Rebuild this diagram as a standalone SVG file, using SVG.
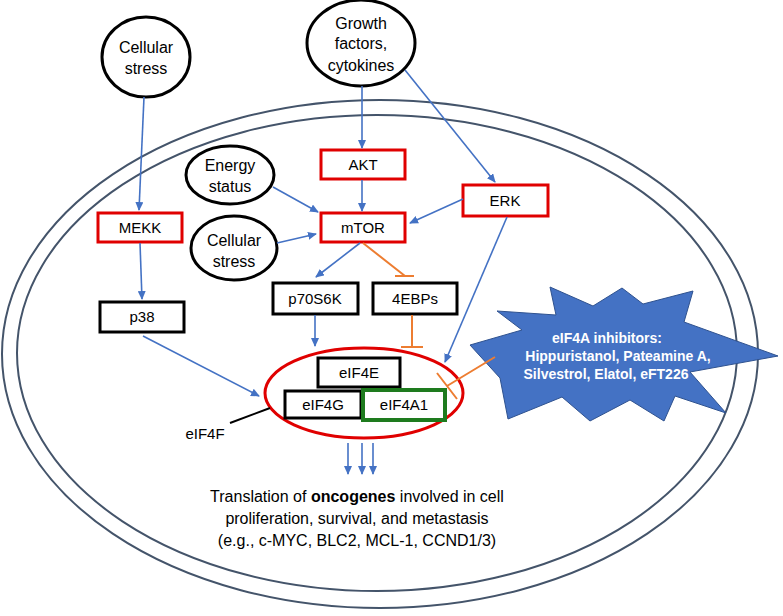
<svg xmlns="http://www.w3.org/2000/svg" width="783" height="616" viewBox="0 0 783 616">
<defs>
<style>
.cell{fill:none;stroke:#44546A;stroke-width:2}
.circ{fill:#fff;stroke:#000;stroke-width:3}
.kbox{fill:#fff;stroke:#000;stroke-width:3}
.rbox{fill:#fff;stroke:#E00000;stroke-width:3}
.gbox{fill:#fff;stroke:#1E7B1E;stroke-width:4}
.t{font-family:"Liberation Sans",Arial,sans-serif;font-size:15px;fill:#000;text-anchor:middle}
.tc{font-family:"Liberation Sans",Arial,sans-serif;font-size:16px;fill:#000;text-anchor:middle}
.tb{font-family:"Liberation Sans",Arial,sans-serif;font-size:14px;font-weight:bold;fill:#fff;text-anchor:middle}
.a{stroke:#4472C4;stroke-width:1.6;fill:none;marker-end:url(#ah)}
.o{stroke:#ED7D31;stroke-width:2;fill:none}
</style>
<marker id="ah" markerUnits="userSpaceOnUse" markerWidth="9" markerHeight="8" refX="8" refY="4" orient="auto">
<path d="M0,0 L9,4 L0,8 z" fill="#4472C4"/>
</marker>
</defs>
<rect width="783" height="616" fill="#fff"/>
<g id="cell-membrane">
<ellipse class="cell" cx="380" cy="354" rx="378" ry="254"/>
<ellipse class="cell" cx="377" cy="353" rx="360" ry="238"/>
</g>
<g id="cellular-stress-1">
<ellipse class="circ" cx="146" cy="57" rx="44" ry="40"/>
<text class="tc" x="146" y="53">Cellular</text>
<text class="tc" x="146" y="74">stress</text>
</g>
<g id="growth-factors">
<ellipse class="circ" cx="361" cy="43" rx="54" ry="43"/>
<text class="tc" x="361" y="29">Growth</text>
<text class="tc" x="361" y="49">factors,</text>
<text class="tc" x="361" y="71">cytokines</text>
</g>
<g id="energy-status">
<ellipse class="circ" cx="230" cy="175" rx="44" ry="29"/>
<text class="tc" x="230" y="171">Energy</text>
<text class="tc" x="230" y="192">status</text>
</g>
<g id="cellular-stress-2">
<ellipse class="circ" cx="234" cy="248" rx="43" ry="32"/>
<text class="tc" x="234" y="246">Cellular</text>
<text class="tc" x="234" y="267">stress</text>
</g>
<g id="akt">
<rect class="rbox" x="321" y="150" width="84" height="29"/>
<text class="t" x="363" y="170">AKT</text>
</g>
<g id="mtor">
<rect class="rbox" x="321" y="213" width="84" height="29"/>
<text class="t" x="363" y="233">mTOR</text>
</g>
<g id="mekk">
<rect class="rbox" x="98" y="213" width="84" height="29"/>
<text class="t" x="140" y="233">MEKK</text>
</g>
<g id="erk">
<rect class="rbox" x="463" y="185" width="85" height="31"/>
<text class="t" x="505" y="206">ERK</text>
</g>
<g id="p38">
<rect class="kbox" x="100" y="302" width="84" height="30"/>
<text class="t" x="142" y="322">p38</text>
</g>
<g id="p70s6k">
<rect class="kbox" x="273" y="283" width="85" height="31"/>
<text class="t" x="315" y="304">p70S6K</text>
</g>
<g id="4ebps">
<rect class="kbox" x="373" y="283" width="84" height="31"/>
<text class="t" x="415" y="304">4EBPs</text>
</g>
<g id="eif4f">
<ellipse cx="364" cy="393" rx="99" ry="45" fill="none" stroke="#E00000" stroke-width="3"/>
<line x1="230" y1="423" x2="270" y2="408" stroke="#000" stroke-width="2"/>
<text class="t" x="205" y="439">eIF4F</text>
</g>
<g id="eif4e">
<rect class="kbox" x="318" y="358" width="82" height="29"/>
<text class="t" x="359" y="378">eIF4E</text>
</g>
<g id="eif4g">
<rect class="kbox" x="285" y="391" width="76" height="27"/>
<text class="t" x="323" y="410">eIF4G</text>
</g>
<g id="eif4a1">
<rect class="gbox" x="363" y="390" width="82" height="30"/>
<text class="t" x="404" y="410">eIF4A1</text>
</g>
<g id="eif4a-inhibitors">
<polygon points="497,311 556,315 550,287 593,306 622,288 643,304 693,291 684,322 778,356 690,372 726,413 675,396 664,421 630,400 590,421 562,397 508,419 500,378 470,345 522,330" fill="#4472C4" stroke="#2F528F" stroke-width="1"/>
<text class="tb" x="607" y="343">eIF4A inhibitors:</text>
<text class="tb" x="618" y="361">Hippuristanol, Pateamine A,</text>
<text class="tb" x="606" y="379">Silvestrol, Elatol, eFT226</text>
</g>
<g id="translation-output">
<text class="tc" x="357" y="502">Translation of <tspan font-weight="bold">oncogenes</tspan> involved in cell</text>
<text class="tc" x="357" y="524">proliferation, survival, and metastasis</text>
<text class="tc" x="357" y="546">(e.g., c-MYC, BLC2, MCL-1, CCND1/3)</text>
</g>
<g id="connectors">
<line class="a" x1="144" y1="97" x2="139" y2="210"/>
<line class="a" x1="362" y1="86" x2="362" y2="148"/>
<line class="a" x1="405" y1="70" x2="495" y2="182"/>
<line class="a" x1="362" y1="180" x2="362" y2="211"/>
<line class="a" x1="273" y1="187" x2="318" y2="212"/>
<line class="a" x1="277" y1="243" x2="316" y2="234"/>
<line class="a" x1="463" y1="199" x2="410" y2="223"/>
<line class="a" x1="360" y1="243" x2="316" y2="277"/>
<line class="a" x1="140" y1="243" x2="142" y2="299"/>
<line class="a" x1="143" y1="336" x2="259" y2="396"/>
<line class="a" x1="315" y1="315" x2="315" y2="346"/>
<line class="a" x1="507" y1="217" x2="445" y2="362"/>
<line class="a" x1="348" y1="443" x2="348" y2="474"/>
<line class="a" x1="362" y1="443" x2="362" y2="474"/>
<line class="a" x1="373" y1="443" x2="373" y2="474"/>
<path class="o" d="M363,243 L405,276 M395,276 L414,276"/>
<path class="o" d="M412,315 L412,347 M401,347 L423,347"/>
<path class="o" d="M495,357 L447,386 M437,373 L457,399"/>
</g>
</svg>
